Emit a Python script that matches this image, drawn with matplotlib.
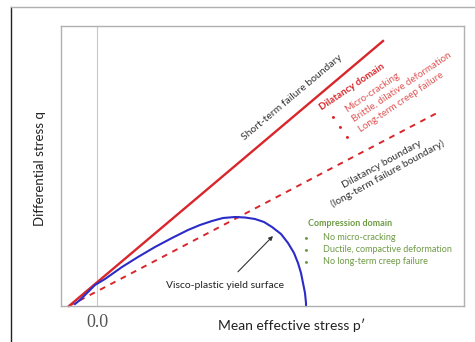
import matplotlib.pyplot as plt
from matplotlib.lines import Line2D

plt.rcParams['font.family'] = ['Lato', 'DejaVu Sans']

# Short-term failure boundary (solid red) and dilatancy boundary (dashed red)
short_p = [-0.28, 2.86]
short_q = [0.0, 2.65]
dil_p = [-0.28, 3.40]
dil_q = [0.0, 1.93]

# Visco-plastic yield surface
yield_p = [-0.22, -0.17, -0.02, 0.08, 0.25, 0.41, 0.58, 0.75, 0.91, 1.03, 1.15, 1.26, 1.38,
           1.48, 1.58, 1.67, 1.75, 1.84, 1.91, 1.97, 2.01, 2.04, 2.06, 2.08, 2.09, 2.09]
yield_q = [0.02, 0.06, 0.21, 0.27, 0.39, 0.49, 0.59, 0.68, 0.76, 0.81, 0.85, 0.88, 0.89,
           0.885, 0.87, 0.84, 0.79, 0.72, 0.63, 0.53, 0.43, 0.33, 0.23, 0.13, 0.03, 0.0]

dil_items = ['Micro-cracking', 'Brittle, dilative deformation', 'Long-term creep failure']
comp_items = ['No micro-cracking', 'Ductile, compactive deformation', 'No long-term creep failure']

red = '#d9262b'
blue = '#2b2bc8'
green = '#6e9a45'

fig = plt.figure(figsize=(4.75, 3.42), dpi=100)
ax = fig.add_axes([61/475, 36/342, 403/475, 280/342])

ax.plot(short_p, short_q, color=red, lw=1.7, clip_on=False)
ax.plot(dil_p, dil_q, color=red, lw=1.4, ls=(0, (3, 3)), clip_on=False)
ax.plot(yield_p, yield_q, color=blue, lw=1.5, clip_on=False)
ax.axvline(0, color='#c8c8c8', lw=0.8, zorder=0)

ax.set_xlim(-0.36, 3.67)
ax.set_ylim(0, 2.80)
ax.set_xticks([])
ax.set_yticks([])
for s in ax.spines.values():
    s.set_color('#b0b0b0')
    s.set_linewidth(1.0)

ax.set_xlabel("Mean effective stress p\u2032", fontsize=10, color='#222222')
ax.xaxis.set_label_coords(0.573, -0.045)
ax.set_ylabel('Differential stress q', fontsize=9.5, color='#222222')
ax.yaxis.set_label_coords(-0.037, 0.49)
ax.text(0, -0.08, '0.0', ha='center', va='top', fontsize=13,
        family='Liberation Serif', color='#555555')

ax.text(1.95, 2.09, 'Short-term failure boundary', rotation=40, ha='center', va='center',
        fontsize=7.5, color='#333333')
ax.text(2.88, 1.37, 'Dilatancy boundary\n(long-term failure boundary)', rotation=29,
        ha='center', va='center', fontsize=7.5, color='#333333', linespacing=1.25)

# dilatancy domain block, rotated
ax.text(2.25, 1.96, 'Dilatancy domain', rotation=34, rotation_mode='anchor',
        ha='left', va='baseline', fontsize=7, color=red, weight='bold')
for i, item in enumerate(dil_items):
    bx = 2.36 + 0.07 * i
    by = 1.89 - 0.10 * i
    ax.text(bx, by, '\u2022', fontsize=6, color=red, ha='center', va='center')
    ax.text(bx + 0.14, by + 0.05, item, rotation=34, rotation_mode='anchor',
            ha='left', va='baseline', fontsize=7, color='#e05555')

# compression domain block
ax.text(2.11, 0.82, 'Compression domain', fontsize=6.5, color=green, weight='bold',
        ha='left', va='center')
for i, item in enumerate(comp_items):
    y = 0.68 - 0.12 * i
    ax.text(2.09, y, '\u2022', fontsize=6, color=green, ha='center', va='center')
    ax.text(2.26, y, item, fontsize=6.5, color=green, ha='left', va='center')

ax.annotate('Visco-plastic yield surface', xy=(1.76, 0.70), xytext=(1.28, 0.21),
            ha='center', va='center', fontsize=7.5, color='#222222',
            arrowprops=dict(arrowstyle='-|>', color='#333333', lw=0.8,
                            mutation_scale=6, shrinkA=6, shrinkB=0))

# outer frame of the picture
fig.add_artist(Line2D([11/475, 11/475], [0, 1 - 7/342], color='#222222', lw=1.0))
fig.add_artist(Line2D([11/475, 1], [1 - 7/342, 1 - 7/342], color='#b0b0b0', lw=1.0))

fig.savefig('out.png', dpi=100)
